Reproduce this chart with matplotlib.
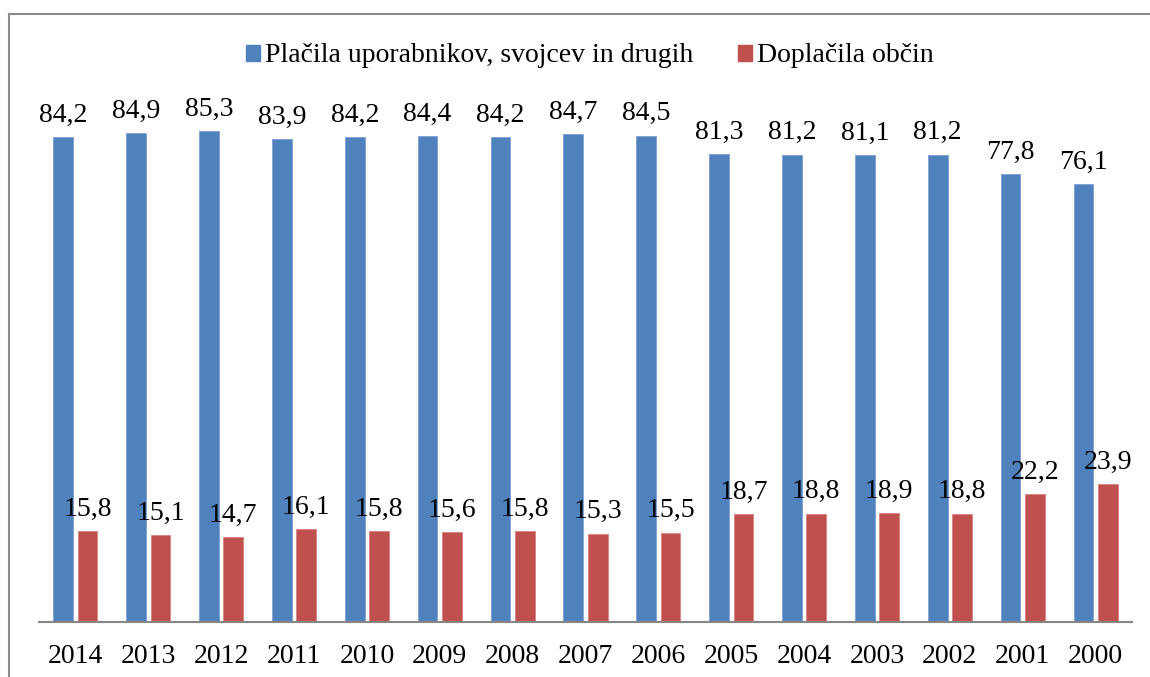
import matplotlib
matplotlib.use("Agg")
import matplotlib.pyplot as plt
from matplotlib.patches import Patch
from matplotlib.lines import Line2D
import numpy as np

years = ["2014", "2013", "2012", "2011", "2010", "2009", "2008", "2007",
         "2006", "2005", "2004", "2003", "2002", "2001", "2000"]
users = [84.2, 84.9, 85.3, 83.9, 84.2, 84.4, 84.2, 84.7, 84.5,
         81.3, 81.2, 81.1, 81.2, 77.8, 76.1]
municipalities = [15.8, 15.1, 14.7, 16.1, 15.8, 15.6, 15.8, 15.3, 15.5,
                  18.7, 18.8, 18.9, 18.8, 22.2, 23.9]
series_names = ["Plačila uporabnikov, svojcev in drugih", "Doplačila občin"]

plt.rcParams['font.family'] = ['Liberation Serif', 'DejaVu Serif']
W, H = 1150, 677
fig = plt.figure(figsize=(W / 100, H / 100), dpi=100)
ax = fig.add_axes([39 / W, (H - 621.7) / H, (1132 - 39) / W, (621.7 - 46.4) / H])

blue = "#4F81BD"
red = "#C0504D"
x = np.arange(len(years))
bw = 0.27
off = 0.167
ax.bar(x - off, users, bw, color=blue, edgecolor="#7BA0D4", linewidth=0.6)
ax.bar(x + off, municipalities, bw, color=red, edgecolor="#D98380", linewidth=0.6)

fs = 20
for xi, v in zip(x - off, users):
    ax.annotate(f"{v:.1f}".replace(".", ","), (xi, v), xytext=(0, 11),
                textcoords="offset points", ha="center", va="baseline", fontsize=fs)
for xi, v in zip(x + off, municipalities):
    ax.annotate(f"{v:.1f}".replace(".", ","), (xi, v), xytext=(0, 11),
                textcoords="offset points", ha="center", va="baseline", fontsize=fs)

ax.set_xlim(-0.5, len(years) - 0.5)
ax.set_ylim(0, 100)
ax.set_xticks(x)
ax.set_xticklabels(years, fontsize=fs)
ax.tick_params(axis="x", length=0, pad=16)
ax.set_yticks([])
for s in ["top", "right", "left"]:
    ax.spines[s].set_visible(False)
ax.spines["bottom"].set_color("#868686")
ax.spines["bottom"].set_linewidth(1.5)

handles = [Patch(facecolor=blue, edgecolor=blue), Patch(facecolor=red, edgecolor=red)]
fig.legend(handles, series_names, loc="center", bbox_to_anchor=(590 / W, 1 - 56 / H),
           ncol=2, frameon=False, fontsize=fs, handlelength=0.5, handleheight=0.5,
           handletextpad=0.2, columnspacing=1.6, borderpad=0, borderaxespad=0)

# outer border (left and top visible)
fig.add_artist(Line2D([9 / W, 9 / W], [0, 1 - 14 / H], transform=fig.transFigure,
                      color="#8C8C8C", linewidth=1.5))
fig.add_artist(Line2D([9 / W, 1], [1 - 14 / H, 1 - 14 / H], transform=fig.transFigure,
                      color="#8C8C8C", linewidth=1.5))

fig.savefig("out.png", dpi=100)
